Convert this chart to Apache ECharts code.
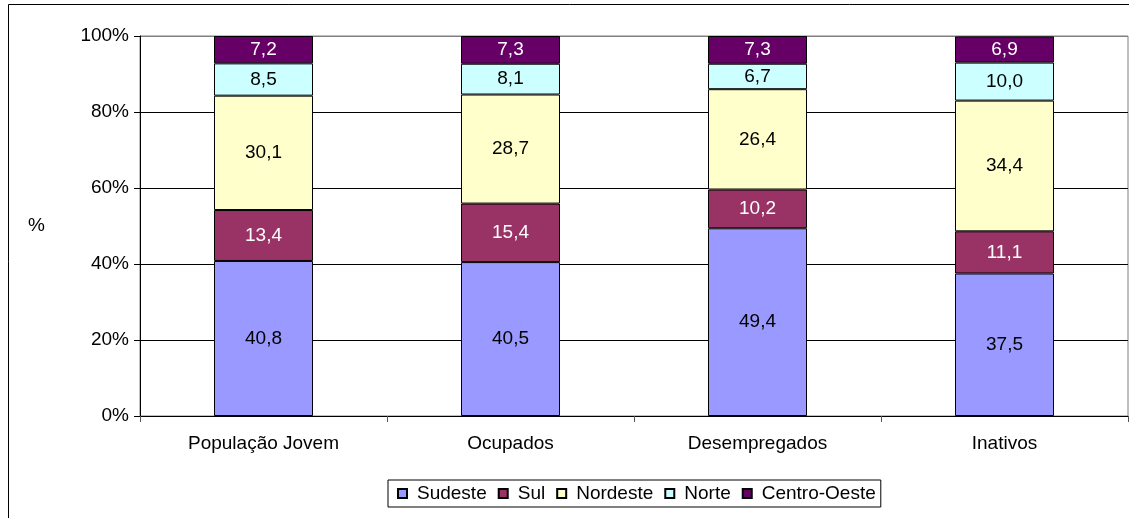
<!DOCTYPE html>
<html><head><meta charset="utf-8">
<script src="https://cdn.jsdelivr.net/npm/echarts@6/dist/echarts.min.js"></script>
<style>html,body{margin:0;padding:0;background:#fff}#c{width:1129px;height:518px}</style>
</head><body><div id="c"></div>
<script>
const categories = ['População Jovem', 'Ocupados', 'Desempregados', 'Inativos'];
const seriesNames = ['Sudeste', 'Sul', 'Nordeste', 'Norte', 'Centro-Oeste'];
const sudeste = [40.8, 40.5, 49.4, 37.5];
const sul = [13.4, 15.4, 10.2, 11.1];
const nordeste = [30.1, 28.7, 26.4, 34.4];
const norte = [8.5, 8.1, 6.7, 10.0];
const centroOeste = [7.2, 7.3, 7.3, 6.9];
const yTicks = [0, 20, 40, 60, 80, 100];

const colors = ['#9999FF', '#993366', '#FFFFCC', '#CCFFFF', '#660066'];
const labelColors = ['#000', '#fff', '#000', '#000', '#fff'];
const values = [sudeste, sul, nordeste, norte, centroOeste];
const FONT = 'Liberation Sans, Arial, sans-serif';
const FS = 19;

const chart = echarts.init(document.getElementById('c'), null, {renderer: 'canvas'});
chart.setOption({
  animation: false,
  textStyle: {fontFamily: FONT},
  graphic: [{type: 'rect', shape: {x: 8.5, y: 4.5, width: 1200, height: 600}, style: {fill: 'none', stroke: '#000', lineWidth: 1}, silent: true}],
  grid: {left: 140, top: 36, right: 1, bottom: 102, show: true, borderColor: '#808080', borderWidth: 1},
  legend: {
    data: seriesNames, left: 388, top: 480, orient: 'horizontal',
    icon: 'rect', itemWidth: 9, itemHeight: 9, itemGap: 11,
    borderColor: '#000', borderWidth: 1, padding: [4, 5, 4, 9],
    textStyle: {fontFamily: FONT, fontSize: FS, color: '#000', padding: [0, 0, 0, 5]}
  },
  xAxis: {
    type: 'category', data: categories,
    axisLine: {lineStyle: {color: '#000'}},
    axisTick: {show: true, alignWithLabel: false, length: 6, lineStyle: {color: '#555'}},
    axisLabel: {fontFamily: FONT, fontSize: FS, color: '#000', margin: 18}
  },
  yAxis: {
    type: 'value', min: 0, max: 100, interval: 20,
    name: '%', nameLocation: 'middle', nameRotate: 0, nameGap: 95,
    nameTextStyle: {fontFamily: FONT, fontSize: FS, color: '#000'},
    axisLine: {show: true, lineStyle: {color: '#000'}},
    axisTick: {show: true, length: 6, lineStyle: {color: '#000'}},
    axisLabel: {fontFamily: FONT, fontSize: FS, color: '#000', margin: 11, formatter: v => yTicks.includes(v) ? v + '%' : ''},
    splitLine: {show: true, lineStyle: {color: ['#000', '#000', '#000', '#000', '#000', '#808080'], width: 1}}
  },
  series: seriesNames.map((n, i) => ({
    name: n, type: 'bar', stack: 'total', barWidth: 99,
    data: values[i],
    itemStyle: {color: colors[i], borderColor: '#000', borderWidth: 1},
    label: {show: true, position: 'inside', fontFamily: FONT, fontSize: FS, color: labelColors[i],
      formatter: p => p.value.toFixed(1).replace('.', ',')}
  }))
});
</script></body></html>
